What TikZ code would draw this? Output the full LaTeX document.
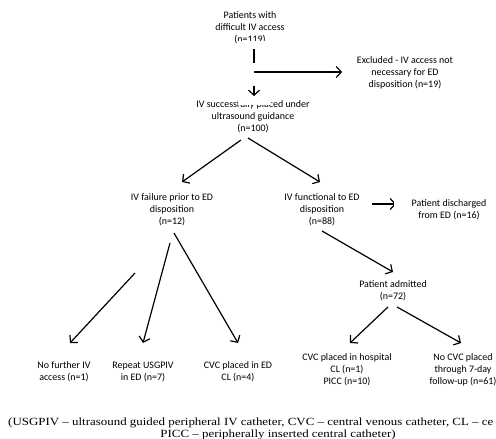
\documentclass[tikz,border=0pt]{standalone}
\usepackage{fontspec}
\usepackage{graphicx}
\setmainfont{Carlito}
\newfontfamily\capfont{Liberation Serif}
\usetikzlibrary{arrows.meta,calc}
\begin{document}
\begin{tikzpicture}[x=1bp,y=-1bp,
  lbl/.style={align=center,font=\fontsize{10}{12}\selectfont,inner sep=0pt},
  captxt/.style={font=\capfont\fontsize{11}{12}\selectfont,inner sep=0pt},
  arr/.style={line width=1.2bp,-{Straight Barb[length=5bp,width=11bp,line width=1.2bp]}},
  occl/.style={fill=white,draw=none}]
\useasboundingbox (0,0) rectangle (496,439);

% nodes
\node[lbl] (top)   at (250,28)  {Patients with\\difficult IV access\\(n=119)};
\node[lbl] (excl)  at (405,73)  {Excluded - IV access not\\necessary for ED\\disposition (n=19)};
\node[lbl] (succ)  at (253,117) {IV successfully placed under\\ultrasound guidance\\(n=100)};
\node[lbl] (fail)  at (172,210) {IV failure prior to ED\\disposition\\(n=12)};
\node[lbl] (func)  at (322,210) {IV functional to ED\\disposition\\(n=88)};
\node[lbl] (disc)  at (449,210) {Patient discharged\\from ED (n=16)};
\node[lbl] (adm)   at (393,291) {Patient admitted\\(n=72)};
\node[lbl] (hosp)  at (347,370) {CVC placed in hospital\\CL (n=1)\\PICC (n=10)};
\node[lbl] (nocvc) at (463,370) {No CVC placed\\through 7-day\\follow-up (n=61)};
\node[lbl] (nofur) at (64,372)  {No further IV\\access (n=1)};
\node[lbl] (rep)   at (143,372) {Repeat USGPIV\\in ED (n=7)};
\node[lbl] (cvced) at (238,372) {CVC placed in ED\\CL (n=4)};

% caption
\node[captxt,anchor=base west] (cap1) at (8,425) {\scalebox{1.18}[1]{(USGPIV – ultrasound guided peripheral IV catheter, CVC – central venous catheter, CL – ce}};
\node[captxt,anchor=base] (cap2) at (278,437) {\scalebox{1.18}[1]{PICC – peripherally inserted central catheter)}};

% main vertical connector (partly hidden in the reference)
\draw[arr] ($(top)+(4,19)$) -- ($(succ)+(1,-21)$);
\draw[arr] ($(func)+(50,-6)$) -- ($(disc)+(-53,-6)$);
% occluding white areas as in the reference
\fill[occl] (237,41.5) rectangle (272,49.5);
\fill[occl] (246,63) rectangle (262,86);
\fill[occl] (238,96) rectangle (271,105);
\fill[occl] (393.5,195) rectangle (405,214);

\coordinate (hx) at (254,72);
\draw[arr] (hx) -- ($(excl)+(-63,-1)$);

\draw[arr] ($(succ)+(-12,23)$) -- ($(fail)+(10,-28)$);
\draw[arr] ($(succ)+(-5,21)$) -- ($(func)+(-2,-28)$);
\draw[arr] ($(func)+(0,21)$) -- ($(adm)+(0,-19)$);
\draw[arr] ($(adm)+(-5,16)$) -- ($(hosp)+(3,-27)$);
\draw[arr] ($(adm)+(4,16)$) -- ($(nocvc)+(-2,-27)$);

\coordinate (c1) at (135,273);
\draw[arr] (c1) -- ($(nofur)+(6,-29)$);
\draw[arr] ($(fail)+(-2,33)$) -- ($(rep)+(0,-29)$);
\draw[arr] ($(fail)+(2,23)$) -- ($(cvced)+(0,-29)$);
\end{tikzpicture}
\end{document}
